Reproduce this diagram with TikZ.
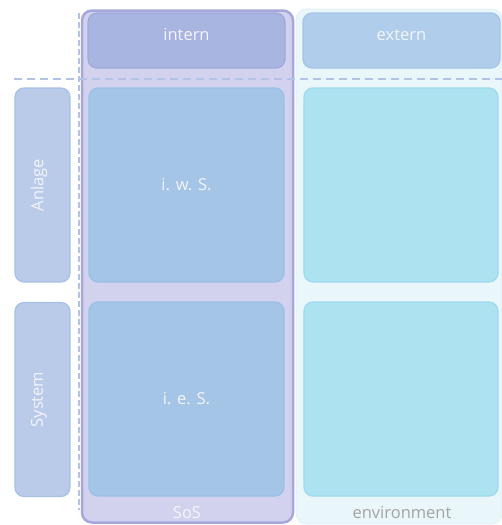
\documentclass[tikz,border=0pt]{standalone}
\usepackage{fontspec}
\setmainfont{Open Sans}
\begin{document}
\begin{tikzpicture}[x=1pt,y=-1pt,
  lbl/.style={font=\fontsize{16.5}{18}\selectfont, inner sep=0pt},
  cell/.style={rounded corners=9pt, line width=1.2pt, inner sep=0pt},
  blue cell/.style={cell, draw=bordB, fill=fillB},
  cyan cell/.style={cell, draw=bordC, fill=fillC},
  side cell/.style={cell, draw=bordS, fill=fillS},
  guide/.style={draw=guideC, line width=1.3pt, dash pattern=on 8pt off 5pt},
  vguide/.style={draw=guideC, line width=1.3pt, dash pattern=on 6pt off 3pt}]
\definecolor{sosF}{HTML}{D2D2EF}
\definecolor{sosB}{HTML}{A7A7DC}
\definecolor{envF}{HTML}{E9F6FA}
\definecolor{envB}{HTML}{E2F2F8}
\definecolor{fillB}{HTML}{A5C5E7}
\definecolor{bordB}{HTML}{98C0E6}
\definecolor{fillC}{HTML}{ADE3F1}
\definecolor{bordC}{HTML}{9ED9EE}
\definecolor{fillS}{HTML}{B9CBE9}
\definecolor{bordS}{HTML}{A7C0E6}
\definecolor{intF}{HTML}{A8B5E1}
\definecolor{intB}{HTML}{9CAADC}
\definecolor{extF}{HTML}{B0CEEB}
\definecolor{extB}{HTML}{A3C4E8}
\definecolor{guideC}{HTML}{B3C3E6}
\definecolor{txtG}{HTML}{A4A4A4}
\definecolor{txtW}{HTML}{F4F4FC}
\useasboundingbox (0,0) rectangle (502,525);
\fill[white] (0,0) rectangle (502,525);
% big containers
\node[draw=envB, fill=envF, line width=0.8pt, rounded corners=10pt, minimum width=206pt, minimum height=515pt, inner sep=0pt] (env) at (399,266.5) {};
\node[draw=sosB, fill=sosF, line width=2.5pt, rounded corners=10pt, minimum width=211pt, minimum height=512pt, inner sep=0pt] (sos) at (187.5,266.5) {};
% guides
\coordinate (hA) at (14,79);
\coordinate (hB) at (502,79);
\coordinate (vA) at (79,13);
\coordinate (vB) at (79,510);
\draw[guide] (hA) -- (hB);
\draw[vguide] (vA) -- (vB);
% headers
\node[cell, draw=intB, fill=intF, minimum width=197pt, minimum height=55pt] (intern) at (186.5,40.5) {};
\node[text=txtW, lbl] (internT) at (186.5,35) {intern};
\node[cell, draw=extB, fill=extF, minimum width=197pt, minimum height=55pt] (extern) at (401.5,40.5) {};
\node[text=txtW, lbl] (externT) at (401.5,35) {extern};
% cells
\node[blue cell, minimum width=195pt, minimum height=194pt] (iws) at (186.5,185) {};
\node[text=txtW, lbl] (iwsT) at (186.5,185) {i. w. S.};
\node[blue cell, minimum width=195pt, minimum height=194pt] (ies) at (186.5,399) {};
\node[text=txtW, lbl] (iesT) at (186.5,399) {i. e. S.};
\node[cyan cell, minimum width=194pt, minimum height=194pt] (c1) at (401,185) {};
\node[cyan cell, minimum width=194pt, minimum height=194pt] (c2) at (401,399) {};
% side labels
\node[side cell, minimum width=55pt, minimum height=194pt] (anlage) at (42.5,185) {};
\node[text=txtW, lbl, rotate=90] (anlageT) at (39,185) {Anlage};
\node[side cell, minimum width=55pt, minimum height=194pt] (system) at (42.5,399.5) {};
\node[text=txtW, lbl, rotate=90] (systemT) at (39,399.5) {System};
% footers
\node[text=txtW, lbl] (sosT) at (187,513) {SoS};
\node[text=txtG, lbl] (envT) at (402,513) {environment};
\end{tikzpicture}
\end{document}
